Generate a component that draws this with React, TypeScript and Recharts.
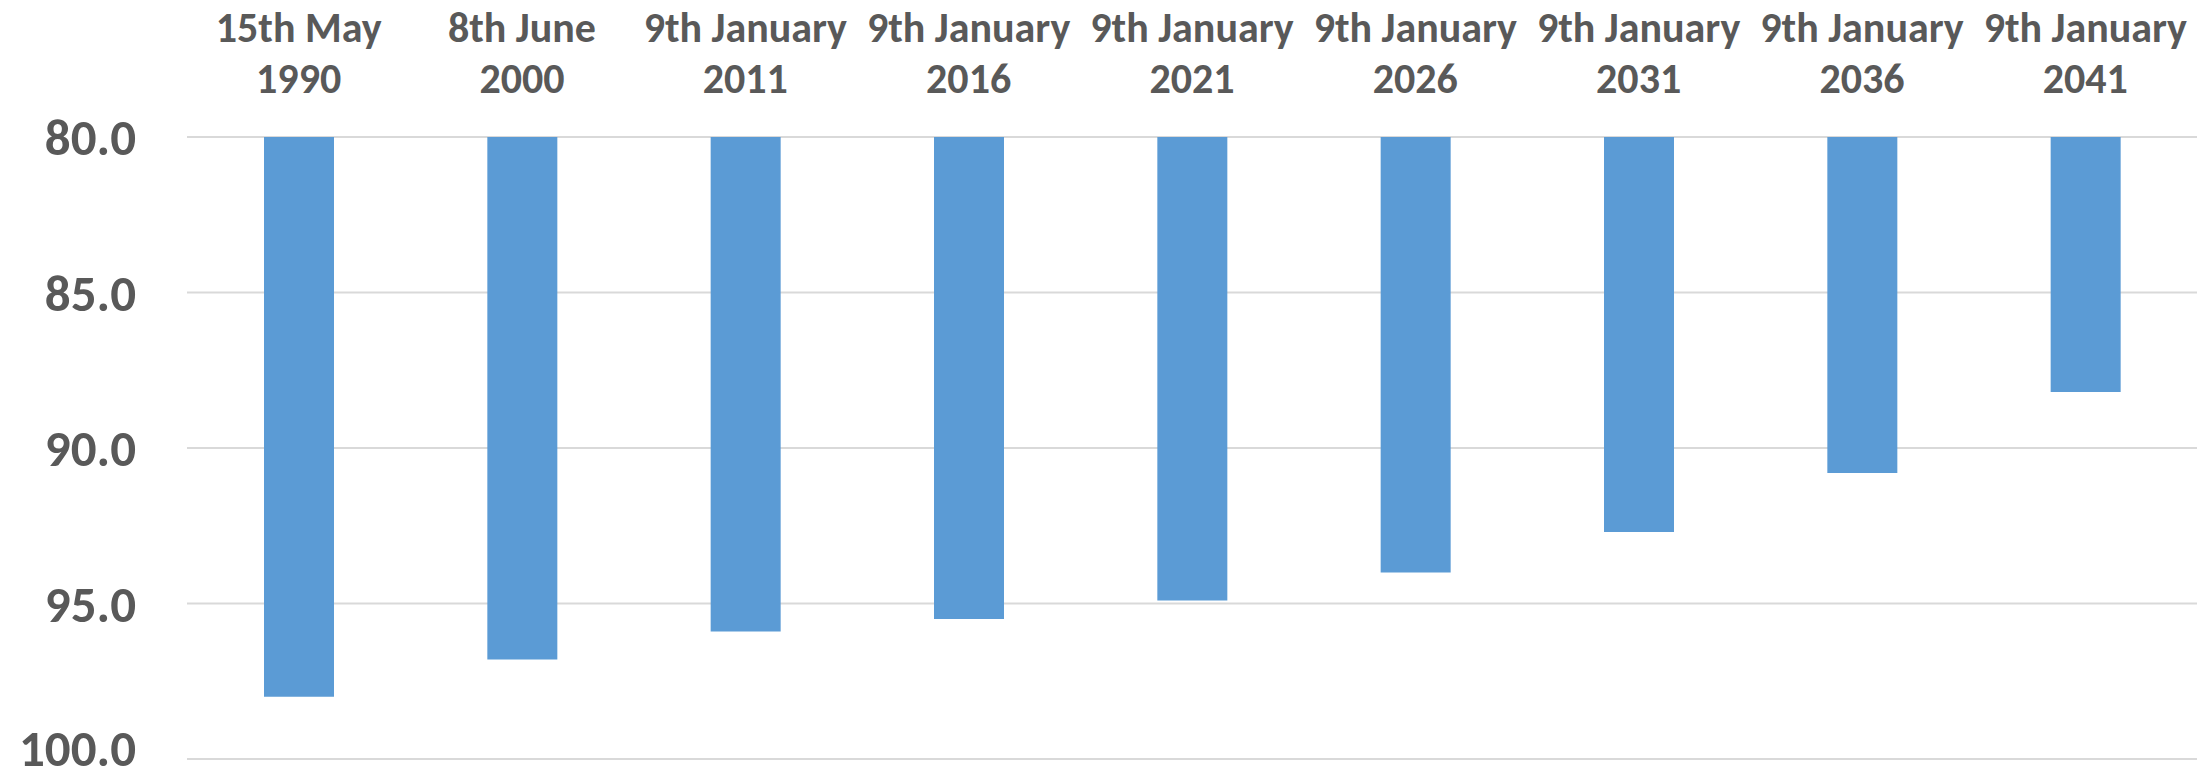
import { BarChart, Bar, XAxis, YAxis, CartesianGrid } from 'recharts';

const CATEGORIES = [
  "15th May 1990",
  "8th June 2000",
  "9th January 2011",
  "9th January 2016",
  "9th January 2021",
  "9th January 2026",
  "9th January 2031",
  "9th January 2036",
  "9th January 2041",
];
const VALUES = [98.0, 96.8, 95.9, 95.5, 94.9, 94.0, 92.7, 90.8, 88.2];
const Y_TICKS = [80, 85, 90, 95, 100];

const BAR_COLOR = "#5B9BD5";
const TEXT_COLOR = "#595959";
const GRID_COLOR = "#D9D9D9";
const FONT = "Carlito, Lato, 'Open Sans', sans-serif";

const data = CATEGORIES.map((name, i) => ({ name, value: VALUES[i] }));

// two-line label above the plot: date on top, year below
const TopTick = ({ x, y, payload }: any) => {
  const label: string = payload.value;
  const cut = label.lastIndexOf(" ");
  const first = label.slice(0, cut);
  const second = label.slice(cut + 1);
  return (
    <g>
      <text x={x} y={y - 95} textAnchor="middle" fill={TEXT_COLOR} fontSize={42} fontWeight={700} fontFamily={FONT}>
        {first}
      </text>
      <text x={x} y={y - 44} textAnchor="middle" fill={TEXT_COLOR} fontSize={42} fontWeight={700} fontFamily={FONT}>
        {second}
      </text>
    </g>
  );
};

export default function App() {
  return (
    <div style={{ position: "absolute", left: 0, top: 0, background: "#fff" }}>
      <BarChart
        width={2211}
        height={777}
        data={data}
        margin={{ top: 0, right: 14, left: 0, bottom: 18 }}
      >
        <CartesianGrid vertical={false} stroke={GRID_COLOR} strokeWidth={2} />
        <XAxis
          dataKey="name"
          orientation="top"
          height={137}
          axisLine={false}
          tickLine={false}
          tickSize={0}
          tickMargin={0}
          interval={0}
          tick={<TopTick />}
        />
        <YAxis
          type="number"
          domain={[80, 100]}
          ticks={Y_TICKS}
          reversed
          width={187}
          axisLine={false}
          tickLine={false}
          tickSize={0}
          tickMargin={51}
          tickFormatter={(v: number) => v.toFixed(1)}
          tick={{ fill: TEXT_COLOR, fontSize: 51, fontWeight: 700, fontFamily: FONT }}
        />
        <Bar dataKey="value" fill={BAR_COLOR} barSize={70} isAnimationActive={false} />
      </BarChart>
    </div>
  );
}
